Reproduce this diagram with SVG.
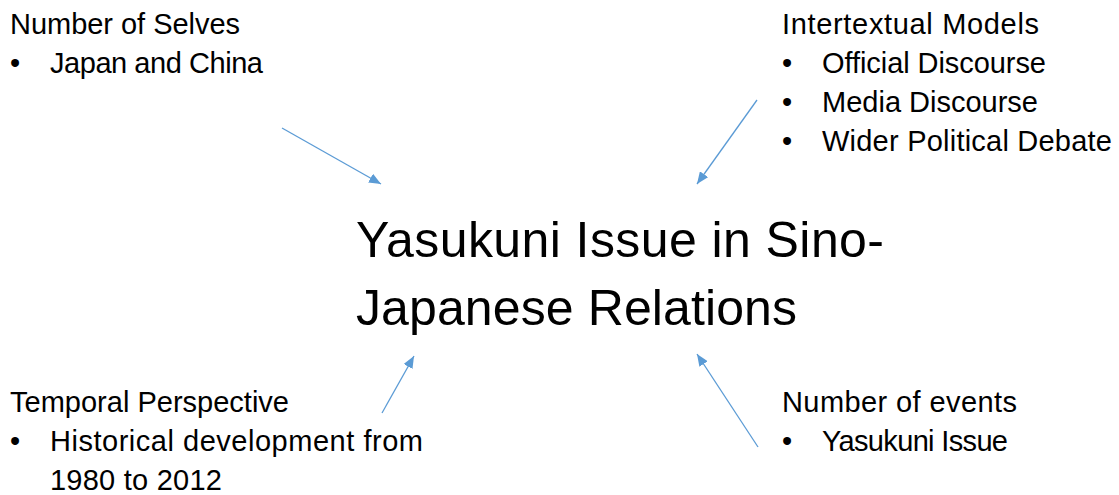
<svg xmlns="http://www.w3.org/2000/svg" width="1119" height="495" viewBox="0 0 1119 495">
<defs>
<style>
text{font-family:"Liberation Sans",Arial,sans-serif;fill:#000}
.s{font-size:29px}
.t{font-size:50px}
.c{stroke:#5B9BD5;stroke-width:1.3;fill:none}
</style>
<marker id="ah" viewBox="0 0 12 10" refX="12" refY="5" markerWidth="12" markerHeight="10" markerUnits="userSpaceOnUse" orient="auto">
<path d="M0,0 L12,5 L0,10 z" fill="#5B9BD5"/>
</marker>
</defs>
<rect width="1119" height="495" fill="#fff"/>
<g id="selves">
<text class="s" x="10" y="34" textLength="230">Number of Selves</text>
<text class="s" x="10" y="73">•</text>
<text class="s" x="50" y="73" textLength="213">Japan and China</text>
</g>
<g id="intertextual">
<text class="s" x="782" y="34" textLength="257">Intertextual Models</text>
<text class="s" x="782" y="73">•</text>
<text class="s" x="822" y="73" textLength="224">Official Discourse</text>
<text class="s" x="782" y="112">•</text>
<text class="s" x="822" y="112" textLength="216">Media Discourse</text>
<text class="s" x="782" y="151">•</text>
<text class="s" x="822" y="151" textLength="290">Wider Political Debate</text>
</g>
<g id="title">
<text class="t" x="356" y="257" textLength="528">Yasukuni Issue in Sino-</text>
<text class="t" x="356" y="325" textLength="441">Japanese Relations</text>
</g>
<g id="temporal">
<text class="s" x="10" y="412" textLength="279">Temporal Perspective</text>
<text class="s" x="10" y="451">•</text>
<text class="s" x="50" y="451" textLength="373">Historical development from</text>
<text class="s" x="50" y="490" textLength="172">1980 to 2012</text>
</g>
<g id="events">
<text class="s" x="782" y="412" textLength="235">Number of events</text>
<text class="s" x="782" y="451">•</text>
<text class="s" x="822" y="451" textLength="186">Yasukuni Issue</text>
</g>
<g id="connectors">
<line class="c" x1="282" y1="128" x2="381" y2="184" marker-end="url(#ah)"/>
<line class="c" x1="757" y1="100" x2="697" y2="184" marker-end="url(#ah)"/>
<line class="c" x1="382" y1="413" x2="414" y2="356" marker-end="url(#ah)"/>
<line class="c" x1="758" y1="447" x2="697" y2="354" marker-end="url(#ah)"/>
</g>
</svg>
